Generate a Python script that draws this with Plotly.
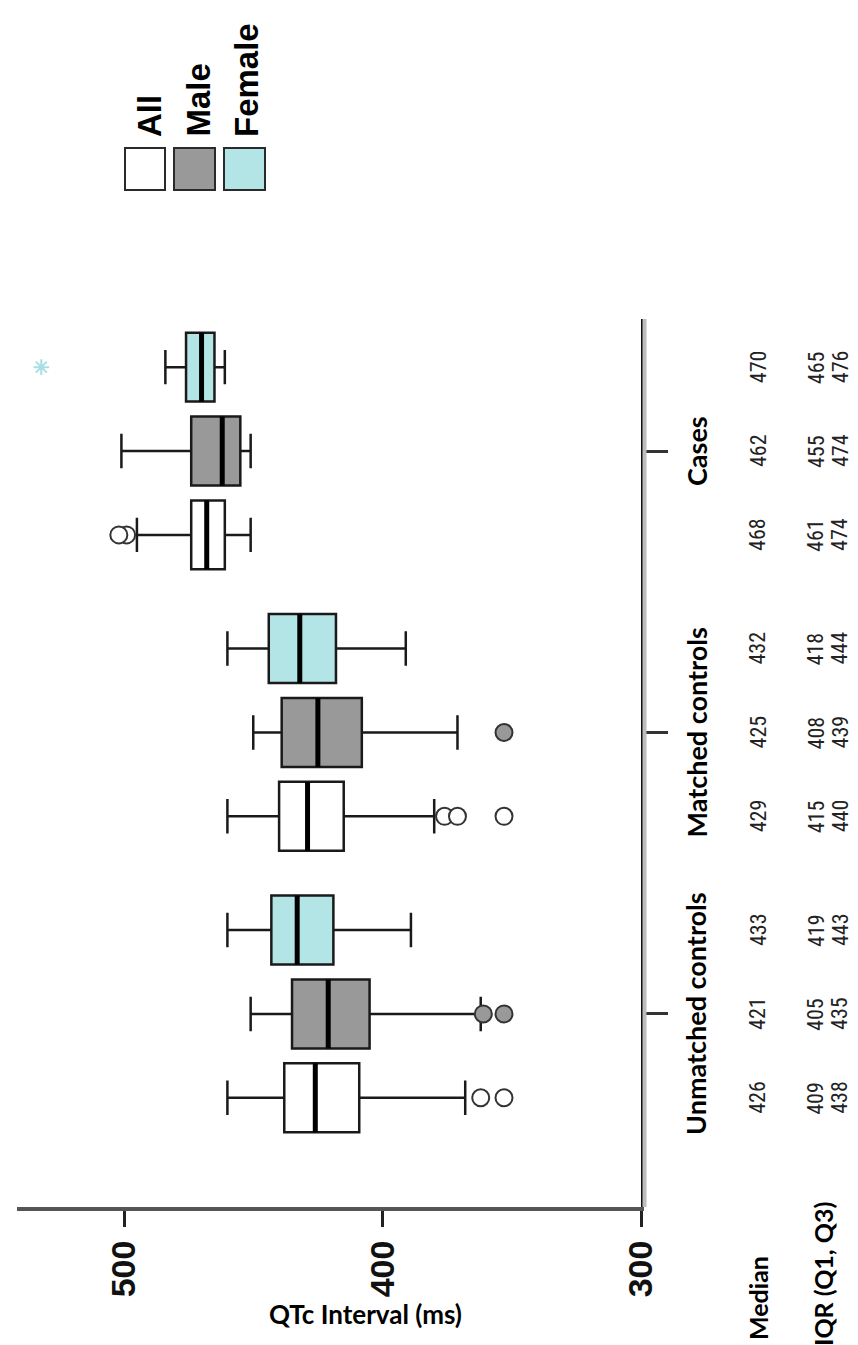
import plotly.graph_objects as go

# ---------------- data ----------------
categories = ["Unmatched controls", "Matched controls", "Cases"]
groups = ["All", "Male", "Female"]

# per group: values for [Unmatched, Matched, Cases]
median = {"All": [426, 429, 468], "Male": [421, 425, 462], "Female": [433, 432, 470]}
q1 = {"All": [409, 415, 461], "Male": [405, 408, 455], "Female": [419, 418, 465]}
q3 = {"All": [438, 440, 474], "Male": [435, 439, 474], "Female": [443, 444, 476]}
lower_whisker = {"All": [368, 380, 451], "Male": [362, 371, 451], "Female": [389, 391, 461]}
upper_whisker = {"All": [460, 460, 495], "Male": [451, 450, 501], "Female": [460, 460, 484]}
outliers = {
    "All": [[362, 353], [376, 371, 353], [499, 502]],
    "Male": [[361, 353], [353], []],
    "Female": [[], [], []],
}
extremes = {"All": [[], [], []], "Male": [[], [], []], "Female": [[], [], [532]]}

value_ticks = [300, 400, 500]

# ---------------- styling ----------------
fill = {"All": "#ffffff", "Male": "#999999", "Female": "#b3e5e6"}
out_fill = {"All": "#ffffff", "Male": "#999999", "Female": "#b3e5e6"}
star_color = "#a6dfe3"

W_FIG, H_FIG = 858, 1345
L, R, T, B = 9, 633, 311, 1199
PW, PH = R - L, B - T


def fx(x):
    return (x - L) / PW


def fy(y):
    return (B - y) / PH


slot = 0.298
box_w = 0.245
offsets = {g: (j - 1) * slot for j, g in enumerate(groups)}

fig = go.Figure()

for g in groups:
    pos = [i + offsets[g] for i in range(len(categories))]
    fig.add_trace(go.Box(
        orientation="h",
        y=pos,
        q1=q1[g], median=median[g], q3=q3[g],
        lowerfence=lower_whisker[g], upperfence=upper_whisker[g],
        width=box_w, whiskerwidth=0.5,
        fillcolor=fill[g],
        line=dict(color="#1a1a1a", width=2.5),
        boxpoints=False, showlegend=False, hoverinfo="skip",
    ))
    # thick median lines
    mx, my = [], []
    for p, m in zip(pos, median[g]):
        mx += [m, m, None]
        my += [p - box_w / 2, p + box_w / 2, None]
    fig.add_trace(go.Scatter(x=mx, y=my, mode="lines",
                             line=dict(color="#000000", width=5),
                             showlegend=False, hoverinfo="skip"))
    # outliers
    ox, oy = [], []
    for p, vals in zip(pos, outliers[g]):
        ox += vals
        oy += [p] * len(vals)
    if ox:
        fig.add_trace(go.Scatter(x=ox, y=oy, mode="markers",
                                 marker=dict(size=17, color=out_fill[g],
                                             line=dict(color="#333333", width=2)),
                                 showlegend=False, hoverinfo="skip"))
    ex, ey = [], []
    for p, vals in zip(pos, extremes[g]):
        ex += vals
        ey += [p] * len(vals)
    if ex:
        fig.add_trace(go.Scatter(x=ex, y=ey, mode="markers",
                                 marker=dict(size=13, symbol="asterisk-open",
                                             color=star_color,
                                             line=dict(color=star_color, width=2)),
                                 showlegend=False, hoverinfo="skip"))

# ---------------- axes ----------------
x_left = 300 + (R - L) / 2.585
fig.update_xaxes(
    range=[x_left, 300], tickvals=value_ticks,
    ticktext=[f"<b>{v}</b>" for v in value_ticks],
    tickangle=-90, ticks="outside", ticklen=16, tickwidth=3, tickcolor="#222",
    tickfont=dict(family="Liberation Sans, Arial, sans-serif", size=34, color="#111"),
    showline=True, linecolor="#555555", linewidth=4,
    showgrid=False, zeroline=False,
)
fig.update_yaxes(
    range=[-0.686, 2.469], side="right",
    tickvals=list(range(len(categories))), showticklabels=False,
    ticks="outside", ticklen=24, tickwidth=3, tickcolor="#333",
    showline=True, linecolor="#111111", linewidth=3,
    showgrid=False, zeroline=False,
)

shapes = []
# 3D shadow of category axis
shapes.append(dict(type="line", xref="paper", yref="paper", xsizemode="pixel",
                   xanchor=1, x0=3.5, x1=3.5, y0=0, y1=1,
                   line=dict(color="#bdbdbd", width=4)))
# legend squares
leg_x = {"All": (117, 157), "Male": (166, 207), "Female": (216, 257)}
for g in groups:
    x0, x1 = leg_x[g]
    shapes.append(dict(type="rect", xref="paper", yref="paper",
                       x0=fx(x0), x1=fx(x1), y0=fy(182), y1=fy(140),
                       fillcolor=fill[g], line=dict(color="#2a2a2a", width=2)))

annotations = []
leg_tx = {"All": 141, "Male": 190, "Female": 238}
for g in groups:
    annotations.append(dict(text=f"<b>{g}</b>", textangle=-90, xref="paper", yref="paper",
                            x=fx(leg_tx[g]), y=fy(131), xanchor="center", yanchor="bottom",
                            showarrow=False,
                            font=dict(family="Liberation Sans, Arial, sans-serif", size=33, color="#000")))

lab_font = dict(family="Lato, Open Sans, sans-serif", size=27, color="#000")
row_font = dict(family="Lato, Open Sans, sans-serif", size=25, color="#000")
num_font = dict(family="Liberation Sans Narrow, Roboto Condensed, DejaVu Sans Condensed, Lato, sans-serif",
                size=22, color="#222")

for i, c in enumerate(categories):
    annotations.append(dict(text=f"<b>{c}</b>", textangle=-90, xref="paper", yref="y",
                            x=fx(688), y=i, xanchor="center", yanchor="middle",
                            showarrow=False, font=lab_font))
    for g in groups:
        p = i + offsets[g]
        for col_x, arr in ((750, median), (808, q1), (832, q3)):
            annotations.append(dict(text=str(arr[g][i]), textangle=-90, xref="paper", yref="y",
                                    x=fx(col_x), y=p, xanchor="center", yanchor="middle",
                                    showarrow=False, font=num_font))

annotations.append(dict(text="<b>Median</b>", textangle=-90, xref="paper", yref="paper",
                        x=fx(750), y=fy(1290), xanchor="center", yanchor="middle",
                        showarrow=False, font=row_font))
annotations.append(dict(text="<b>IQR (Q1, Q3)</b>", textangle=-90, xref="paper", yref="paper",
                        x=fx(815), y=fy(1266), xanchor="center", yanchor="middle",
                        showarrow=False, font=row_font))
annotations.append(dict(text="<b>QTc Interval (ms)</b>", xref="paper", yref="paper",
                        x=fx(357), y=fy(1306), xanchor="center", yanchor="middle",
                        showarrow=False,
                        font=dict(family="Lato, Open Sans, sans-serif", size=26, color="#000")))

fig.update_layout(
    width=W_FIG, height=H_FIG, autosize=False,
    margin=dict(l=L, r=W_FIG - R, t=T, b=H_FIG - B, pad=0),
    paper_bgcolor="#ffffff", plot_bgcolor="#ffffff",
    shapes=shapes, annotations=annotations, showlegend=False,
)

fig.write_html("out.html")
